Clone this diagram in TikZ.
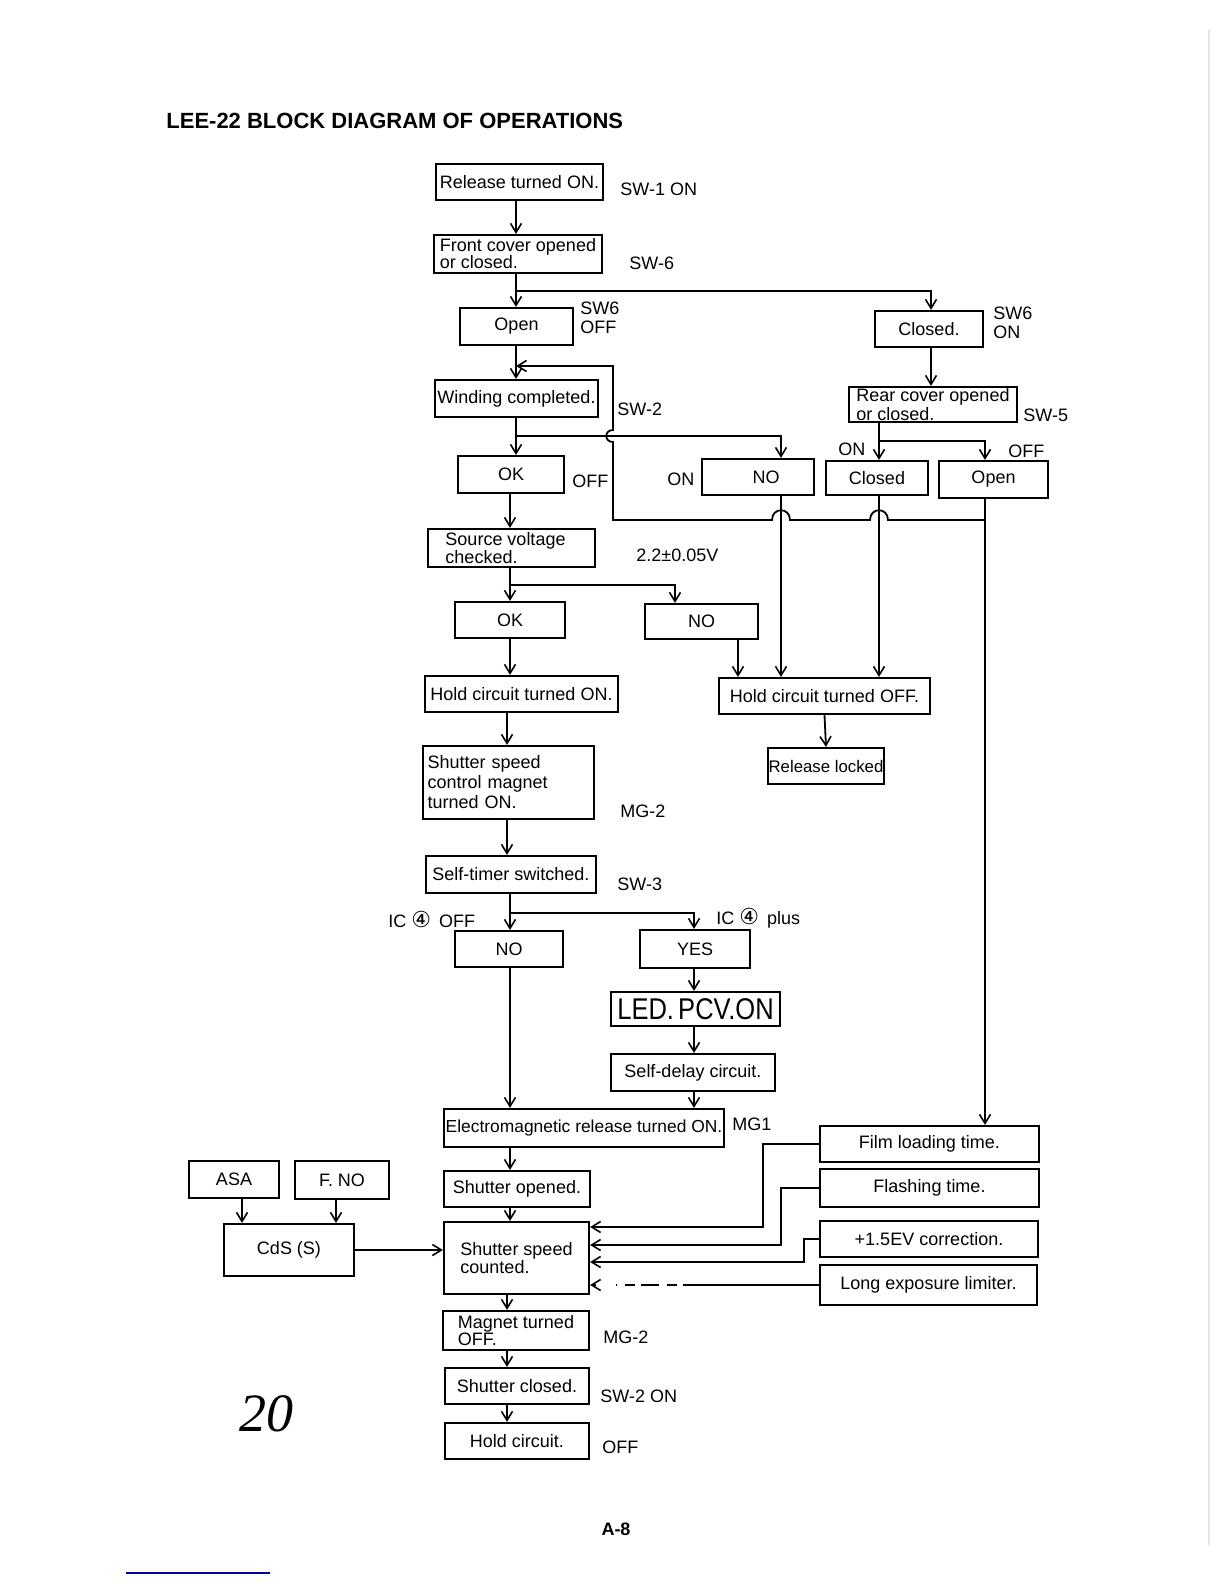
\documentclass[tikz,border=0pt]{standalone}
\usepackage{fontspec}
\setmainfont{Liberation Sans}
\newfontfamily\dejavu{DejaVu Sans}
\newfontfamily\handfont{Liberation Serif}
\usetikzlibrary{arrows.meta,calc}
\tikzset{
  box/.style={draw, line width=1.1pt, inner sep=0pt, font=\fontsize{9}{9.5}\selectfont, align=center},
  ln/.style={line width=0.9pt},
  arr/.style={ln, -{Straight Barb[length=4.5pt,width=5.5pt,line width=0.8pt]}},
  lbl/.style={anchor=west, inner sep=0pt, font=\fontsize{9}{9.5}\selectfont},
  ttl/.style={anchor=west, inner sep=0pt, font=\fontsize{11}{11}\selectfont\bfseries},
}
\newcommand\bx[7][]{%
  \pgfmathsetmacro\bxw{(#5-#3)*0.5}%
  \pgfmathsetmacro\bxh{(#6-#4)*0.5}%
  \pgfmathsetmacro\bxx{(#3+#5)/2}%
  \pgfmathsetmacro\bxy{(#4+#6)/2}%
  \node[box,minimum width=\bxw pt,minimum height=\bxh pt,#1] (#2) at (\bxx,\bxy) {#7};}
\begin{document}
\begin{tikzpicture}[x=0.5pt,y=-0.5pt]
\useasboundingbox (0,0) rectangle (1224,1584);
\fill[white] (0,0) rectangle (1224,1584);
% scan artifacts
\draw[black!10, line width=1pt] (1209,30) -- (1209,1545);
\draw[blue!60!black, line width=1.2pt] (126,1573) -- (270,1573);

\node[ttl] (title) at (166,121) {LEE-22 BLOCK DIAGRAM OF OPERATIONS};

% columns
\coordinate (c1) at (516,0);
\coordinate (c2) at (510,0);
\coordinate (c3) at (507,0);
\coordinate (xc1) at (931,0);
\coordinate (xn1) at (781,0);
\coordinate (xr) at (879,0);
\coordinate (xo) at (985,0);
\coordinate (xn2) at (738,0);
\coordinate (xn3) at (675,0);
\coordinate (xy) at (694,0);
\coordinate (xa) at (242,0);
\coordinate (xb) at (336,0);

% boxes
\bx{rel}{436}{164}{603}{200}{Release turned ON.}
\bx[align=left,font=\fontsize{9}{8.5}\selectfont]{front}{434}{235}{602}{273}{Front cover opened\\or closed.}
\bx{open1}{460}{308}{573}{345}{Open}
\bx{closed1}{875}{311}{983}{347}{Closed.}
\bx{wind}{435}{380}{598}{417}{Winding completed.}
\bx[align=left,font=\fontsize{9}{8}\selectfont]{rear}{849}{387}{1017}{422}{Rear cover opened\\or closed.}
\bx{ok1}{458}{456}{564}{493}{OK}
\bx{no1}{702}{459}{814}{495}{\hspace*{8pt}NO}
\bx{closed2}{826}{461}{928}{495}{Closed}
\bx{open2}{939}{461}{1048}{498}{Open}
\bx[align=left,font=\fontsize{9}{8}\selectfont]{src}{428}{529}{595}{567}{Source voltage\\checked.\hspace*{30pt}}
\bx{ok2}{455}{602}{565}{638}{OK}
\bx{no2}{645}{604}{758}{639}{NO}
\bx{holdon}{425}{676}{618}{712}{Hold circuit turned ON.}
\bx{holdoff}{719}{678}{930}{714}{Hold circuit turned OFF.}
\bx[font=\fontsize{8.4}{9}\selectfont]{rellock}{768}{748}{884}{784}{Release locked}
\bx[text width=81pt,align=left,font=\fontsize{9}{10}\selectfont]{ssc}{423}{746}{594}{819}{Shutter speed\\control magnet\\turned ON.}
\bx{self}{426}{856}{596}{893}{Self-timer switched.}
\bx{no3}{455}{931}{563}{967}{NO}
\bx{yes}{640}{930}{750}{968}{YES}
\bx[font=\fontsize{15}{15}\selectfont]{led}{611}{992}{780}{1026}{\scalebox{0.85}[1]{LED.\,PCV.ON}}
\bx{delay}{611}{1054}{775}{1091}{Self-delay circuit.}
\bx[font=\fontsize{8.7}{9}\selectfont]{em}{444}{1109}{724}{1147}{Electromagnetic release turned ON.}
\bx{sopen}{444}{1171}{590}{1207}{Shutter opened.}
\bx[align=left,font=\fontsize{9}{9}\selectfont]{ssp}{444}{1222}{589}{1294}{Shutter speed\\counted.}
\bx{asa}{189}{1161}{279}{1198}{ASA}
\bx{fno}{295}{1161}{389}{1199}{F. NO}
\bx{cds}{224}{1224}{354}{1276}{CdS (S)}
\bx{film}{820}{1126}{1039}{1162}{Film loading time.}
\bx{flash}{820}{1169}{1039}{1207}{Flashing time.}
\bx{ev}{820}{1221}{1038}{1257}{+1.5EV correction.}
\bx{long}{820}{1265}{1037}{1305}{Long exposure limiter.}
\bx[align=left,font=\fontsize{9}{8.5}\selectfont]{magoff}{443}{1311}{589}{1350}{Magnet turned\\OFF.}
\bx{sclosed}{445}{1368}{589}{1404}{Shutter closed.}
\bx{hold}{445}{1423}{589}{1459}{Hold circuit.}

% labels
\node[lbl] (l1) at (620,189) {SW-1 ON};
\node[lbl] (l2) at (629,263) {SW-6};
\node[lbl, align=left] (l3) at (580,318) {SW6\\OFF};
\node[lbl, align=left] (l4) at (993,323) {SW6\\ON};
\node[lbl] (l5) at (617,409) {SW-2};
\node[lbl] (l6) at (1023,415) {SW-5};
\node[lbl] (l7) at (572,481) {OFF};
\node[lbl] (l8) at (667,479) {ON};
\node[lbl] (l9) at (838,449) {ON};
\node[lbl] (l10) at (1008,451) {OFF};
\node[lbl] (l11) at (636,555) {2.2±0.05V};
\node[lbl] (l12) at (620,811) {MG-2};
\node[lbl] (l13) at (617,884) {SW-3};
\node[lbl] (l14) at (388,919) {IC {\dejavu\fontsize{11}{11}\selectfont ④} \,OFF};
\node[lbl] (l15) at (716,918) {IC {\dejavu\fontsize{11}{11}\selectfont ④} \,plus};
\node[lbl] (l16) at (732,1124) {MG1};
\node[lbl] (l17) at (603,1337) {MG-2};
\node[lbl] (l18) at (600,1396) {SW-2 ON};
\node[lbl] (l19) at (602,1447) {OFF};
\node[inner sep=0pt, font=\fontsize{9}{9}\selectfont\bfseries] (pg) at (616,1529) {A-8};
\node[inner sep=0pt, font=\fontsize{27}{27}\selectfont\handfont\itshape] (hw) at (266,1414) {20};

% junction coordinates
\coordinate (j1) at (516,291);
\coordinate (j2) at (516,436);
\coordinate (j3) at (879,441);
\coordinate (j4) at (510,585);
\coordinate (j5) at (510,913);
\coordinate (loopT) at (613,366);
\coordinate (loopR) at (985,520);
\coordinate (f1) at (763,1227);
\coordinate (f2) at (781,1245);
\coordinate (f3) at (804,1262);

% main trunk
\draw[arr] (rel.south -| c1) -- (front.north -| c1);
\draw[arr] (front.south -| c1) -- (open1.north -| c1);
\draw[arr] (j1) -| (closed1.north -| xc1);
\draw[arr] (open1.south -| c1) -- (wind.north -| c1);
\draw[arr] (closed1.south -| xc1) -- (rear.north -| xc1);
\draw[arr] (wind.south -| c1) -- (ok1.north -| c1);
\draw[arr] (j2) -| (no1.north -| xn1);
\draw[arr] (rear.south -| xr) -- (closed2.north -| xr);
\draw[arr] (j3) -| (open2.north -| xo);
% loop back from rear cover open to winding
\draw[arr] (loopR) -- (888,520) .. controls (888,507) and (870,507) .. (870,520)
  -- (790,520) .. controls (790,507) and (772,507) .. (772,520)
  -- (613,520) -- (613,442) .. controls (604,442) and (604,430) .. (613,430)
  -- (loopT) -- (loopT -| c1);
\draw[arr] (open2.south -| xo) -- (film.north -| xo);
\draw[arr] (no1.south -| xn1) -- (holdoff.north -| xn1);
\draw[arr] (closed2.south -| xr) -- (holdoff.north -| xr);

\draw[arr] (ok1.south -| c2) -- (src.north -| c2);
\draw[arr] (src.south -| c2) -- (ok2.north -| c2);
\draw[arr] (j4) -| (no2.north -| xn3);
\draw[arr] (ok2.south -| c2) -- (holdon.north -| c2);
\draw[arr] (no2.south -| xn2) -- (holdoff.north -| xn2);
\draw[arr] (holdoff.south) -- (rellock.north);
\draw[arr] (holdon.south -| c3) -- (ssc.north -| c3);
\draw[arr] (ssc.south -| c3) -- (self.north -| c3);
\draw[arr] (self.south -| c2) -- (no3.north -| c2);
\draw[arr] (j5) -| (yes.north -| xy);
\draw[arr] (yes.south -| xy) -- (led.north -| xy);
\draw[arr] (led.south -| xy) -- (delay.north -| xy);
\draw[arr] (delay.south -| xy) -- (em.north -| xy);
\draw[arr] (no3.south -| c2) -- (em.north -| c2);
\draw[arr] (em.south -| c2) -- (sopen.north -| c2);
\draw[arr] (sopen.south -| c2) -- (ssp.north -| c2);
\draw[arr] (ssp.south -| c3) -- (magoff.north -| c3);
\draw[arr] (magoff.south -| c3) -- (sclosed.north -| c3);
\draw[arr] (sclosed.south -| c3) -- (hold.north -| c3);

% exposure inputs
\draw[arr] (asa.south -| xa) -- (cds.north -| xa);
\draw[arr] (fno.south -| xb) -- (cds.north -| xb);
\draw[arr] (cds.east) -- (cds.east -| ssp.west);
\draw[arr] (film.west) -| (f1) -- (f1 -| ssp.east);
\draw[arr] (flash.west) -| (f2) -- (f2 -| ssp.east);
\draw[arr] (ev.west) -| (f3) -- (f3 -| ssp.east);
\draw[ln] (long.west) -- ++(-118,0) coordinate (ld);
\draw[ln, dash pattern=on 9pt off 3pt on 5pt off 4pt] (ld) -- ++(-85,0);
\draw[arr] ($(ssp.east |- long.west)+(6,0)$) -- (ssp.east |- long.west);
\end{tikzpicture}
\end{document}
